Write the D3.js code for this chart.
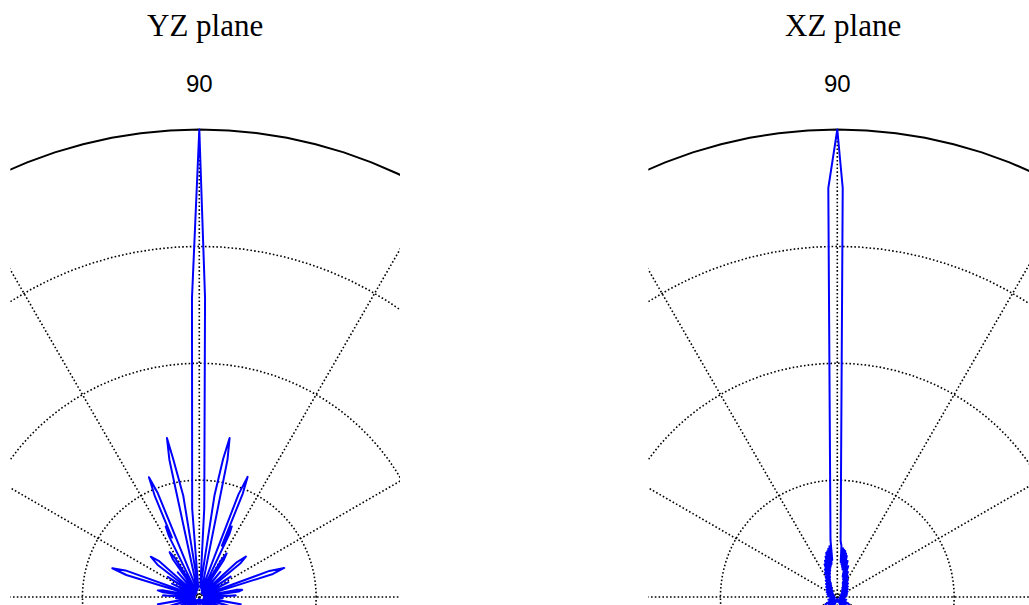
<!DOCTYPE html>
<html>
<head>
<meta charset="utf-8">
<script src="https://cdn.jsdelivr.net/npm/d3@7"></script>
<style>
  body { margin: 0; background: #fff; }
  svg { display: block; background: #fff; }
  .title { font-family: "Liberation Serif", "Times New Roman", serif; font-size: 31px; fill: #000; }
  .angle-label { font-family: "Liberation Sans", Arial, sans-serif; font-size: 24px; fill: #000; }
</style>
</head>
<body>
<div id="chart"></div>
<script>
// Títulos dos dois planos
const planeTitles = ["YZ plane", "XZ plane"];

// Grade polar
const ringLevels = [0.25, 0.5, 0.75];
const spokeAngles = [30, 60, 90, 120, 150, 180];
const angleLabels = [90];

// Diagrama no plano YZ: [ângulo em graus, amplitude normalizada]
const yzPattern = [
  [0, 0.02], [2.5, 0.078], [5, 0.01], [8, 0.085], [9.5, 0.093], [11, 0.08], [14, 0.01],
  [17.4, 0.165], [18.9, 0.192], [20.4, 0.16], [24, 0.012], [27, 0.07], [30, 0.01],
  [33, 0.08], [36.5, 0.01], [39.3, 0.113], [41, 0.132], [42.8, 0.11], [45.5, 0.012],
  [50, 0.07], [53.5, 0.01], [56.5, 0.095], [57.9, 0.11], [59.3, 0.092], [62, 0.01],
  [64.5, 0.15], [65.3, 0.166], [66.3, 0.12], [67.2, 0.24], [68.1, 0.277], [69.1, 0.235],
  [72, 0.015], [78.4, 0.3], [79.2, 0.346], [80.2, 0.3], [81.5, 0.22], [84, 0.02],
  [86.8, 0.19], [88.9, 0.64], [90, 1.0], [91.4, 0.64], [94.6, 0.19], [96.5, 0.02],
  [99, 0.22], [100.7, 0.3], [101.5, 0.347], [102.3, 0.3], [106, 0.015],
  [111.8, 0.24], [112.8, 0.278], [113.8, 0.235], [114.7, 0.14], [115.5, 0.167], [116.5, 0.145],
  [119, 0.012], [122, 0.1], [123.5, 0.115], [125, 0.098], [127.5, 0.01], [131, 0.07],
  [135, 0.01], [138.2, 0.115], [140.3, 0.135], [142.3, 0.113], [145, 0.01], [147.5, 0.08],
  [151, 0.01], [154, 0.065], [157.5, 0.01], [160.2, 0.168], [161.7, 0.196], [163.2, 0.163],
  [166.5, 0.012], [169.5, 0.08], [171, 0.09], [172.5, 0.078], [175, 0.01], [177.5, 0.078],
  [180, 0.02], [183, 0.05], [186, 0.01], [190, 0.09], [193.5, 0.01], [197, 0.12],
  [201, 0.01], [205, 0.08], [209, 0.01], [215, 0.06], [221, 0.01], [228, 0.05],
  [236, 0.008], [245, 0.03], [255, 0.005], [262, 0.015], [270, 0.004], [278, 0.015],
  [285, 0.005], [295, 0.03], [304, 0.008], [312, 0.05], [319, 0.01], [325, 0.06],
  [331, 0.01], [335, 0.08], [339, 0.01], [343, 0.12], [347, 0.01], [350, 0.09],
  [354, 0.01], [357, 0.05]
];

// Diagrama no plano XZ
const xzPattern = [
  [0, 0.012], [7, 0.02], [12, 0.008], [18, 0.022], [23, 0.008], [28, 0.025], [32.5, 0.01],
  [37, 0.028], [41, 0.012], [45, 0.032], [48.5, 0.015], [52, 0.037], [55, 0.018],
  [58, 0.043], [60.5, 0.022], [63, 0.05], [65, 0.028], [67, 0.058], [68.8, 0.032],
  [70.5, 0.07], [72.2, 0.04], [74, 0.08], [75.5, 0.045], [77, 0.09], [77.8, 0.06],
  [78.6, 0.095], [79.4, 0.06], [80.2, 0.1], [81, 0.065], [81.8, 0.102], [82.6, 0.07],
  [83.4, 0.105], [84.4, 0.075], [85.4, 0.11], [86.6, 0.12], [89.24, 0.875],
  [90, 1.0], [91.26, 0.875], [96.8, 0.123], [97.8, 0.08], [98.8, 0.11], [99.7, 0.072],
  [100.6, 0.105], [101.5, 0.068], [102.4, 0.1], [103.3, 0.064], [104.2, 0.097],
  [105.2, 0.058], [106.3, 0.09], [107.5, 0.052], [108.8, 0.082], [110, 0.045],
  [111.3, 0.075], [112.8, 0.04], [114.2, 0.065], [115.5, 0.032], [116.8, 0.058],
  [118, 0.028], [120, 0.05], [122.5, 0.022], [125, 0.043], [128, 0.018], [131, 0.037],
  [134.5, 0.015], [138, 0.032], [142, 0.012], [146, 0.028], [150.5, 0.01], [155, 0.025],
  [160, 0.008], [165, 0.022], [170, 0.008], [175, 0.02], [180, 0.012], [185, 0.015],
  [190, 0.005], [197, 0.02], [204, 0.006], [212, 0.03], [218, 0.008], [224, 0.035],
  [230, 0.01], [236, 0.03], [242, 0.008], [250, 0.02], [258, 0.005], [265, 0.01],
  [270, 0.004], [275, 0.01], [282, 0.005], [290, 0.02], [298, 0.008], [304, 0.03],
  [310, 0.01], [316, 0.035], [322, 0.008], [328, 0.03], [336, 0.006], [343, 0.02],
  [350, 0.005], [355, 0.015]
];

// Definições do gráfico
const W = 1029, H = 605;
const R = 467.5;
const cy = 597;
const panels = [
  { title: planeTitles[0], pattern: yzPattern, cx: 199.3, box: [10.3, 400] },
  { title: planeTitles[1], pattern: xzPattern, cx: 837.3, box: [648.3, 1038] }
];

const svg = d3.select("#chart")
  .append("svg")
  .attr("width", W)
  .attr("height", H);

// Escalas: raio normalizado e ângulo (graus, anti-horário a partir de +x)
const rScale = d3.scaleLinear().domain([0, 1]).range([0, R]);
const aScale = d3.scaleLinear().domain([0, 360]).range([Math.PI / 2, Math.PI / 2 - 2 * Math.PI]);

const radial = d3.lineRadial()
  .angle(d => aScale(d[0]))
  .radius(d => rScale(d[1]));

const closedRadial = d3.lineRadial()
  .angle(d => aScale(d[0]))
  .radius(d => rScale(d[1]))
  .curve(d3.curveLinearClosed);

const circleSteps = d3.range(0, 360, 3.6);

panels.forEach((p, i) => {
  const clipId = "clip-" + i;
  svg.append("clipPath")
    .attr("id", clipId)
    .append("rect")
    .attr("x", p.box[0] - p.cx)
    .attr("y", 100 - cy)
    .attr("width", p.box[1] - p.box[0])
    .attr("height", H - 100 + 10);

  const g = svg.append("g")
    .attr("transform", `translate(${p.cx},${cy})`);

  const plot = g.append("g").attr("clip-path", `url(#${clipId})`);

  // Anéis pontilhados
  plot.selectAll(".ring")
    .data(ringLevels)
    .enter().append("path")
    .attr("class", "ring")
    .attr("d", lv => closedRadial(circleSteps.map(a => [a, lv])))
    .attr("fill", "none")
    .attr("stroke", "#000")
    .attr("stroke-width", 1.6)
    .attr("stroke-dasharray", "1.6,2.2");

  // Raios pontilhados
  plot.selectAll(".spoke")
    .data(spokeAngles)
    .enter().append("path")
    .attr("class", "spoke")
    .attr("d", a => radial([[a, 1], [a + 180, 1]]))
    .attr("fill", "none")
    .attr("stroke", "#000")
    .attr("stroke-width", 1.6)
    .attr("stroke-dasharray", "1.6,2.2");

  // Círculo externo
  plot.append("path")
    .attr("d", closedRadial(circleSteps.map(a => [a, 1])))
    .attr("fill", "none")
    .attr("stroke", "#000")
    .attr("stroke-width", 2);

  // Diagrama de radiação
  plot.append("path")
    .attr("d", closedRadial(p.pattern))
    .attr("fill", "none")
    .attr("stroke", "#0000ff")
    .attr("stroke-width", 2)
    .attr("stroke-linejoin", "round");

  // Rótulo do ângulo
  g.selectAll(".angle-label")
    .data(angleLabels)
    .enter().append("text")
    .attr("class", "angle-label")
    .attr("x", a => rScale(1.1) * Math.cos(a * Math.PI / 180))
    .attr("y", a => -rScale(1.1) * Math.sin(a * Math.PI / 180))
    .attr("dy", "0.4em")
    .attr("text-anchor", "middle")
    .text(a => a);

  // Título
  svg.append("text")
    .attr("class", "title")
    .attr("x", (p.box[0] + p.box[1]) / 2)
    .attr("y", 36)
    .attr("text-anchor", "middle")
    .text(p.title);
});
</script>
</body>
</html>
